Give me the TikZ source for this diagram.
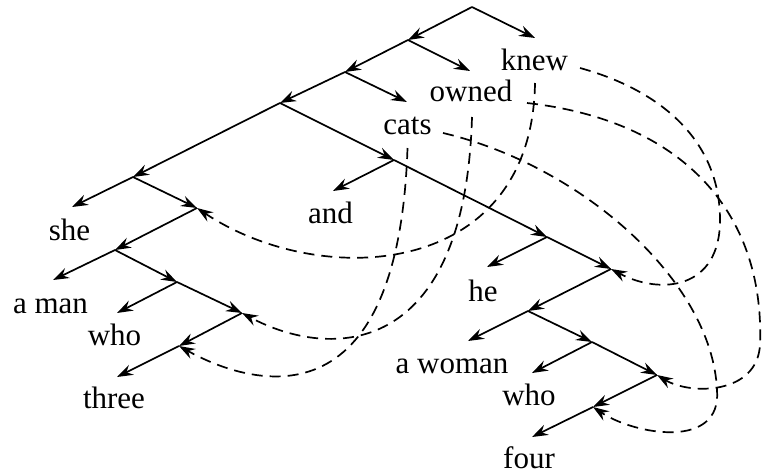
\documentclass[tikz,border=0pt]{standalone}
\usepackage{fontspec}
\setmainfont{Liberation Serif}
\usetikzlibrary{arrows.meta,calc}
\begin{document}
\begin{tikzpicture}[x=1pt,y=-1pt,
  tr/.style={line width=1.7pt,-{Stealth[length=16pt,width=11pt,inset=5.5pt]}},
  ds/.style={tr,dash pattern=on 11pt off 7pt},
  word/.style={anchor=base,inner sep=0pt,font=\fontsize{31}{36}\selectfont}]
\useasboundingbox (0,0) rectangle (762,474);
% branching points
\coordinate (root) at (472,7);
\coordinate (A1) at (408,40);
\coordinate (A2) at (345,72);
\coordinate (A3) at (280,103);
\coordinate (L1) at (133,177);
\coordinate (L2) at (197,208);
\coordinate (L3) at (115,250);
\coordinate (L4) at (177,282);
\coordinate (L5) at (242,313);
\coordinate (L6) at (179,346);
\coordinate (M1) at (394,160);
\coordinate (R1) at (547,237);
\coordinate (R2) at (611,269);
\coordinate (R3) at (528,311);
\coordinate (R4) at (592,342);
\coordinate (R5) at (657,375);
\coordinate (R6) at (593,407);
% arrow tips towards words
\coordinate (tknew) at (535,38);
\coordinate (towned) at (470,71);
\coordinate (tcats) at (407,102);
\coordinate (tshe) at (72,207);
\coordinate (taman) at (53,280);
\coordinate (twhoA) at (117,313);
\coordinate (tthree) at (117,377);
\coordinate (tand) at (333,191);
\coordinate (the) at (487,267);
\coordinate (tawoman) at (468,341);
\coordinate (twhoB) at (532,373);
\coordinate (tfour) at (532,437);
% words
\node[word] (knew) at (534.5,70) {knew};
\node[word] (owned) at (471,101) {owned};
\node[word] (cats) at (407.5,134) {cats};
\node[word] (she) at (69.5,240) {she};
\node[word] (aman) at (50.5,313) {a man};
\node[word] (whoA) at (114.5,345) {who};
\node[word] (three) at (114,408) {three};
\node[word] (and) at (330.5,223) {and};
\node[word] (he) at (483,301) {he};
\node[word] (awoman) at (452,373) {a woman};
\node[word] (whoB) at (529,405) {who};
\node[word] (four) at (529,468) {four};
% tree edges
\draw[tr] (root) -- (A1);
\draw[tr] (root) -- (tknew);
\draw[tr] (A1) -- (A2);
\draw[tr] (A1) -- (towned);
\draw[tr] (A2) -- (A3);
\draw[tr] (A2) -- (tcats);
\draw[tr] (A3) -- (L1);
\draw[tr] (A3) -- (M1);
\draw[tr] (M1) -- (tand);
\draw[tr] (M1) -- (R1);
\draw[tr] (R1) -- (the);
\draw[tr] (R1) -- (R2);
\draw[tr] (R2) -- (R3);
\draw[tr] (R3) -- (tawoman);
\draw[tr] (R3) -- (R4);
\draw[tr] (R4) -- (twhoB);
\draw[tr] (R4) -- (R5);
\draw[tr] (R5) -- (R6);
\draw[tr] (R6) -- (tfour);
\draw[tr] (L1) -- (tshe);
\draw[tr] (L1) -- (L2);
\draw[tr] (L2) -- (L3);
\draw[tr] (L3) -- (taman);
\draw[tr] (L3) -- (L4);
\draw[tr] (L4) -- (twhoA);
\draw[tr] (L4) -- (L5);
\draw[tr] (L5) -- (L6);
\draw[tr] (L6) -- (tthree);
% dashed links
\draw[ds] ($(knew.base)+(0.5,13)$) .. controls (532,280) and (320,290) .. (L2);
\draw[ds] ($(knew.base)+(45.5,-2)$) .. controls (660,90) and (720,140) .. (720,220)
          .. controls (720,290) and (660,295) .. (R2);
\draw[ds] ($(owned.base)+(1,16)$) .. controls (465,360) and (330,360) .. (L5);
\draw[ds] ($(cats.base)+(0,14)$) .. controls (398,440) and (240,380) .. (L6);
\draw[ds] ($(cats.base)+(35.5,-1)$) .. controls (580,165) and (712,280) .. (717,390)
          .. controls (722,450) and (635,435) .. (R6);
\draw[ds] ($(owned.base)+(56,2)$) .. controls (680,120) and (765,210) .. (760,345)
          .. controls (757,395) and (690,395) .. (R5);
\end{tikzpicture}
\end{document}
